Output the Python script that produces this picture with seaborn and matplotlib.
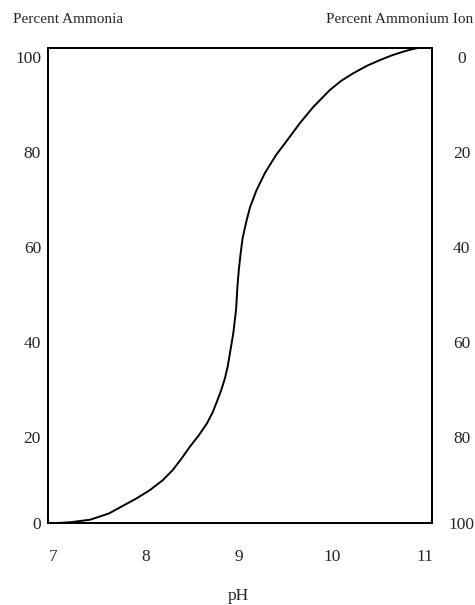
import matplotlib
matplotlib.use("Agg")
import matplotlib.pyplot as plt
import matplotlib.transforms as mtransforms
import numpy as np
import pandas as pd
import seaborn as sns

# curve: pH vs percent ammonia
ph = [7.05, 7.20, 7.40, 7.60, 7.75, 7.90, 8.04, 8.18, 8.29, 8.38, 8.47, 8.57,
      8.66, 8.72, 8.77, 8.81, 8.85, 8.88, 8.91, 8.94, 8.97, 8.985, 9.00, 9.02,
      9.04, 9.08, 9.12, 9.19, 9.28, 9.40, 9.52, 9.66, 9.80, 9.98, 10.10, 10.23,
      10.38, 10.52, 10.65, 10.76, 10.85, 10.92]
ammonia = [0.0, 0.2, 0.7, 2.0, 3.6, 5.2, 6.9, 9.0, 11.2, 13.5, 16.0, 18.5,
           21.1, 23.4, 25.9, 28.0, 30.5, 33.0, 36.5, 40.0, 45.0, 50.0, 53.5, 57.0,
           60.0, 63.5, 66.5, 70.1, 73.7, 77.5, 80.6, 84.3, 87.6, 91.2, 93.1, 94.7,
           96.3, 97.5, 98.5, 99.2, 99.7, 100.0]

x_ticks = [7, 8, 9, 10, 11]
left_ticks = [0, 20, 40, 60, 80, 100]
right_ticks = [0, 20, 40, 60, 80, 100]

df = pd.DataFrame({"pH": ph, "ammonia": ammonia})

sns.set_style("white")
plt.rcParams['font.family'] = ['Liberation Serif', 'DejaVu Serif']

fig = plt.figure(figsize=(4.75, 6.05), dpi=100)
ax = fig.add_axes([0.101, 0.1355, 0.808, 0.785])

sns.lineplot(data=df, x="pH", y="ammonia", ax=ax, color="black",
             linewidth=1.4, sort=False, estimator=None)

ax.set_xlim(6.946, 11.075)
ax.set_ylim(0, 100)
ax.set_xticks(x_ticks)
ax.set_xticklabels([str(t) for t in x_ticks])
ax.set_yticks(left_ticks)
ax.set_yticklabels([str(t) for t in left_ticks])
ax.set_xlabel("")
ax.set_ylabel("")
ax.tick_params(axis="x", length=0, pad=19, labelsize=12.5)
ax.tick_params(axis="y", length=0, pad=5, labelsize=12.5)
for s in ax.spines.values():
    s.set_color("black")
    s.set_linewidth(1.4)

# right axis: percent ammonium ion, reversed
ax2 = ax.twinx()
ax2.set_ylim(100, 0)
ax2.set_yticks(right_ticks)
ax2.set_yticklabels([str(t) for t in right_ticks])
ax2.tick_params(axis="y", length=0, pad=21.5, labelsize=12.5)
for s in ax2.spines.values():
    s.set_color("black")
    s.set_linewidth(1.4)

# labels in the original sit a little below their gridline, except at the bottom
shift = mtransforms.ScaledTranslation(0, -0.09, fig.dpi_scale_trans)
for lab in ax.get_yticklabels():
    if lab.get_text() != "0":
        lab.set_transform(lab.get_transform() + shift)
for lab in ax2.get_yticklabels():
    lab.set_horizontalalignment("center")
    if lab.get_text() != "100":
        lab.set_transform(lab.get_transform() + shift)

fig.text(0.027, 0.967, "Percent Ammonia", ha="left", va="center", fontsize=11)
fig.text(0.996, 0.967, "Percent Ammonium Ion", ha="right", va="center", fontsize=11)
fig.text(0.501, 0.015, "pH", ha="center", va="center", fontsize=12.5)

fig.savefig("out.png", dpi=100)
